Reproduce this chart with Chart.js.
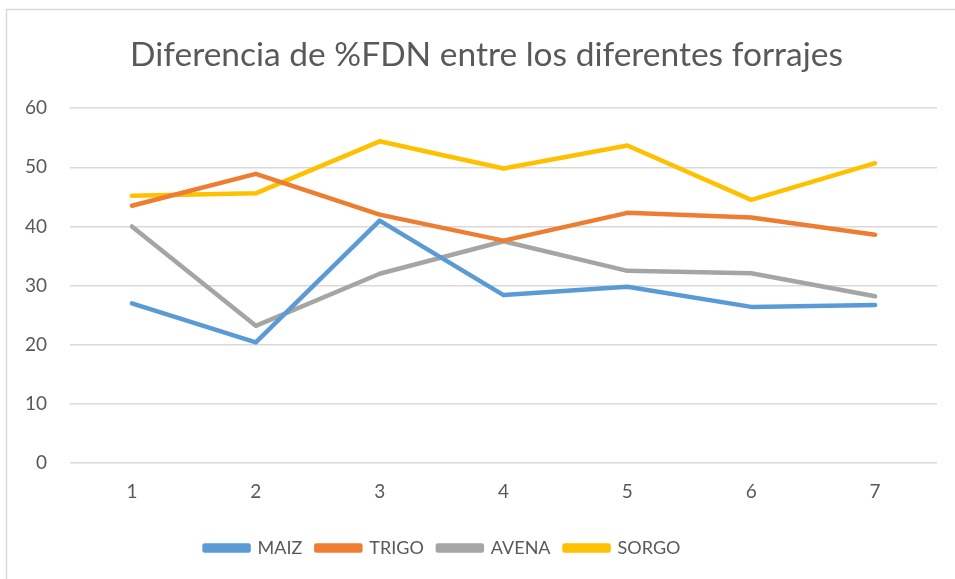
<!DOCTYPE html>
<html>
<head>
<meta charset="utf-8">
<script src="https://cdn.jsdelivr.net/npm/chart.js@4/dist/chart.umd.min.js"></script>
<style>
html,body{margin:0;padding:0;background:#fff;}
#wrap{width:955px;height:579px;position:relative;}
</style>
</head>
<body>
<div id="wrap"><canvas id="c" width="955" height="579"></canvas></div>
<script>
const categories = ['1','2','3','4','5','6','7'];
const maiz  = [27.0, 20.4, 41.0, 28.4, 29.8, 26.4, 26.7];
const trigo = [43.5, 48.9, 42.0, 37.6, 42.3, 41.5, 38.6];
const avena = [40.0, 23.2, 32.0, 37.5, 32.5, 32.1, 28.2];
const sorgo = [45.2, 45.6, 54.4, 49.8, 53.7, 44.5, 50.7];
const seriesNames = ['MAIZ','TRIGO','AVENA','SORGO'];
const seriesColors = ['#5B9BD5','#ED7D31','#A5A5A5','#FFC000'];
const yTicks = [0,10,20,30,40,50,60];

const FONT = 'Lato, "Open Sans", sans-serif';
const TXT = '#595959';

const borderPlugin = {
  id: 'outerBorder',
  afterLayout(chart) {
    // shift title and legend horizontally to match the reference placement
    if (chart.titleBlock) { chart.titleBlock.left += 36; }
    if (chart.legend) { chart.legend.left -= 26; chart.legend.right -= 26; }
  },
  afterDraw(chart) {
    const ctx = chart.ctx;
    ctx.save();
    ctx.strokeStyle = '#d9d9d9';
    ctx.lineWidth = 1.5;
    ctx.strokeRect(6.5, 9.5, 1200, 1000);
    ctx.restore();
  }
};

const dataSets = [maiz, trigo, avena, sorgo].map((d, i) => ({
  label: seriesNames[i],
  data: d,
  borderColor: seriesColors[i],
  backgroundColor: seriesColors[i],
  borderWidth: 4.5,
  pointRadius: 0,
  pointHoverRadius: 0,
  tension: 0,
  borderCapStyle: 'round',
  borderJoinStyle: 'round',
  fill: false
}));

new Chart(document.getElementById('c'), {
  type: 'line',
  data: { labels: categories, datasets: dataSets },
  plugins: [borderPlugin],
  options: {
    responsive: false,
    animation: false,
    layout: { padding: { left: 0, right: 18, top: 0, bottom: 12 } },
    plugins: {
      title: {
        display: true,
        text: 'Diferencia de %FDN entre los diferentes forrajes',
        color: TXT,
        font: { family: FONT, size: 33.5, weight: 'normal' },
        padding: { top: 35, bottom: 33 }
      },
      legend: {
        position: 'bottom',
        labels: {
          color: TXT,
          font: { family: FONT, size: 18 },
          boxWidth: 44,
          boxHeight: 5,
          padding: 14
        }
      },
      tooltip: { enabled: false }
    },
    scales: {
      x: {
        offset: true,
        grid: { display: false, drawTicks: false },
        border: { display: false },
        ticks: { color: TXT, font: { family: FONT, size: 19 }, padding: 17 },
        afterFit(scale) { scale.height = 62; }
      },
      y: {
        min: 0,
        max: 60,
        afterBuildTicks(scale) { scale.ticks = yTicks.map(v => ({ value: v })); },
        grid: { color: '#d9d9d9', lineWidth: 1.5, drawTicks: false },
        border: { display: false },
        ticks: { color: TXT, font: { family: FONT, size: 19 }, padding: 23 },
        afterFit(scale) { scale.width = 70; }
      }
    }
  }
});
</script>
</body>
</html>
